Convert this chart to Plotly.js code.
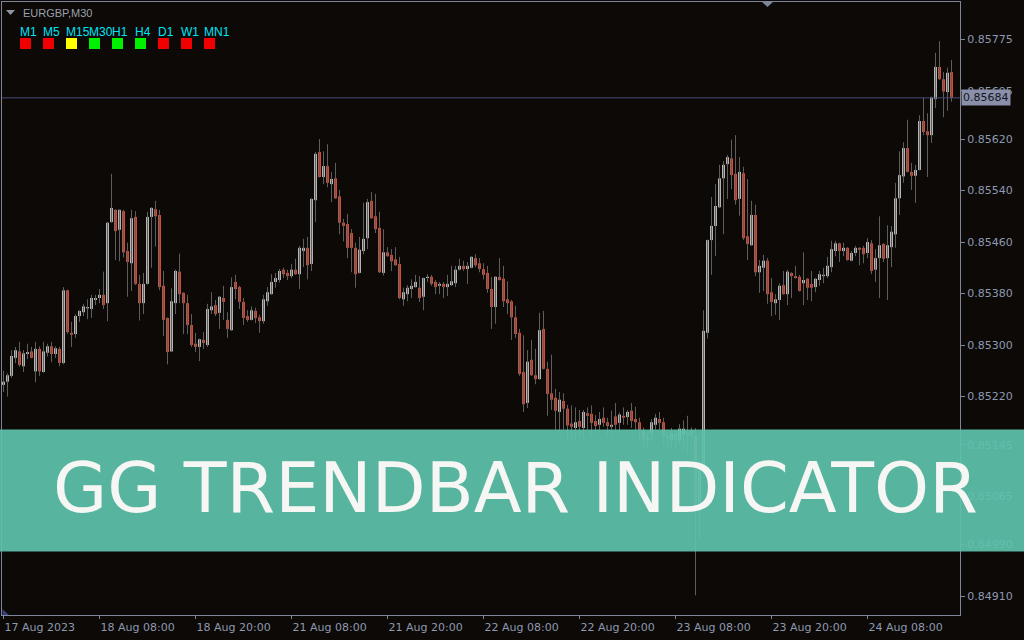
<!DOCTYPE html>
<html>
<head>
<meta charset="utf-8">
<script src="https://cdn.plot.ly/plotly-3.0.1.min.js"></script>
<style>
  html, body { margin: 0; padding: 0; background: #0c0907; }
  #chart { width: 1024px; height: 640px; }
</style>
</head>
<body>
<div id="chart"></div>
<script>
// EURGBP M30 candles, oldest first
const openP = [
  0.85238,0.85243,0.85252,0.85280,0.85290,0.85267,0.85286,0.85290,0.85259,0.85294,
  0.85258,0.85288,0.85298,0.85286,0.85294,0.85272,0.85385,0.85319,0.85317,0.85345,
  0.85351,0.85357,0.85356,0.85370,0.85373,0.85378,0.85365,0.85491,0.85510,0.85479,
  0.85508,0.85446,0.85427,0.85499,0.85395,0.85365,0.85395,0.85499,0.85511,0.85502,
  0.85392,0.85342,0.85290,0.85365,0.85414,0.85381,0.85365,0.85331,0.85302,0.85297,
  0.85308,0.85300,0.85354,0.85362,0.85350,0.85373,0.85339,0.85323,0.85398,0.85390,
  0.85367,0.85345,0.85339,0.85353,0.85343,0.85337,0.85368,0.85379,0.85398,0.85401,
  0.85417,0.85412,0.85407,0.85417,0.85410,0.85446,0.85451,0.85426,0.85525,0.85600,
  0.85561,0.85578,0.85550,0.85559,0.85531,0.85490,0.85488,0.85474,0.85451,0.85412,
  0.85446,0.85466,0.85524,0.85500,0.85482,0.85412,0.85444,0.85440,0.85433,0.85426,
  0.85371,0.85379,0.85387,0.85390,0.85389,0.85375,0.85404,0.85406,0.85398,0.85392,
  0.85395,0.85390,0.85393,0.85396,0.85417,0.85423,0.85418,0.85420,0.85435,0.85427,
  0.85418,0.85412,0.85387,0.85359,0.85406,0.85403,0.85371,0.85368,0.85343,0.85319,
  0.85258,0.85210,0.85277,0.85253,0.85247,0.85325,0.85263,0.85225,0.85218,0.85196,
  0.85213,0.85201,0.85178,0.85171,0.85182,0.85171,0.85194,0.85193,0.85182,0.85176,
  0.85187,0.85180,0.85173,0.85189,0.85179,0.85190,0.85188,0.85198,0.85185,0.85180,
  0.85166,0.85156,0.85163,0.85176,0.85185,0.85180,0.85158,0.85152,0.85163,0.85152,
  0.85161,0.85160,0.85168,0.85160,0.85051,0.85114,0.85319,0.85463,0.85485,0.85514,
  0.85559,0.85581,0.85590,0.85566,0.85527,0.85567,0.85469,0.85455,0.85502,0.85413,
  0.85420,0.85431,0.85382,0.85365,0.85370,0.85393,0.85379,0.85412,0.85407,0.85406,
  0.85396,0.85403,0.85395,0.85390,0.85401,0.85407,0.85407,0.85421,0.85446,0.85458,
  0.85446,0.85451,0.85431,0.85443,0.85451,0.85451,0.85443,0.85458,0.85417,0.85435,
  0.85457,0.85435,0.85452,0.85472,0.85528,0.85562,0.85606,0.85569,0.85563,0.85572,
  0.85648,0.85632,0.85626,0.85682,0.85732,0.85713,0.85693,0.85724
];
const highP = [
  0.85260,0.85256,0.85292,0.85297,0.85305,0.85292,0.85302,0.85297,0.85305,0.85298,
  0.85305,0.85302,0.85305,0.85298,0.85297,0.85390,0.85386,0.85336,0.85348,0.85354,
  0.85364,0.85371,0.85378,0.85378,0.85387,0.85414,0.85491,0.85566,0.85511,0.85511,
  0.85510,0.85459,0.85510,0.85508,0.85409,0.85412,0.85507,0.85514,0.85524,0.85510,
  0.85415,0.85343,0.85388,0.85417,0.85442,0.85382,0.85378,0.85348,0.85319,0.85310,
  0.85320,0.85364,0.85382,0.85370,0.85376,0.85392,0.85351,0.85405,0.85409,0.85392,
  0.85373,0.85354,0.85360,0.85358,0.85347,0.85378,0.85390,0.85410,0.85412,0.85418,
  0.85420,0.85417,0.85426,0.85434,0.85454,0.85465,0.85468,0.85528,0.85600,0.85620,
  0.85601,0.85612,0.85569,0.85583,0.85541,0.85496,0.85504,0.85480,0.85459,0.85468,
  0.85521,0.85527,0.85538,0.85535,0.85507,0.85480,0.85452,0.85449,0.85452,0.85437,
  0.85389,0.85393,0.85402,0.85409,0.85407,0.85405,0.85410,0.85409,0.85401,0.85398,
  0.85398,0.85409,0.85423,0.85423,0.85434,0.85431,0.85429,0.85438,0.85441,0.85435,
  0.85427,0.85423,0.85406,0.85407,0.85435,0.85423,0.85399,0.85370,0.85361,0.85325,
  0.85315,0.85292,0.85308,0.85294,0.85350,0.85353,0.85274,0.85285,0.85232,0.85227,
  0.85225,0.85207,0.85206,0.85203,0.85199,0.85199,0.85203,0.85206,0.85191,0.85196,
  0.85203,0.85187,0.85198,0.85210,0.85195,0.85203,0.85199,0.85210,0.85204,0.85187,
  0.85172,0.85165,0.85185,0.85193,0.85196,0.85187,0.85165,0.85171,0.85168,0.85177,
  0.85183,0.85190,0.85172,0.85171,0.85120,0.85354,0.85464,0.85530,0.85550,0.85580,
  0.85586,0.85595,0.85619,0.85626,0.85592,0.85577,0.85558,0.85524,0.85518,0.85432,
  0.85440,0.85435,0.85404,0.85379,0.85396,0.85415,0.85417,0.85413,0.85423,0.85409,
  0.85444,0.85404,0.85415,0.85404,0.85415,0.85420,0.85437,0.85462,0.85462,0.85459,
  0.85459,0.85452,0.85446,0.85454,0.85452,0.85454,0.85466,0.85463,0.85449,0.85500,
  0.85458,0.85486,0.85485,0.85552,0.85601,0.85615,0.85650,0.85583,0.85580,0.85657,
  0.85685,0.85660,0.85686,0.85754,0.85772,0.85724,0.85731,0.85743
];
const lowP = [
  0.85227,0.85220,0.85249,0.85272,0.85266,0.85258,0.85278,0.85279,0.85242,0.85252,
  0.85257,0.85282,0.85273,0.85280,0.85267,0.85270,0.85317,0.85297,0.85311,0.85336,
  0.85345,0.85340,0.85342,0.85362,0.85365,0.85356,0.85337,0.85490,0.85432,0.85430,
  0.85436,0.85375,0.85384,0.85393,0.85338,0.85348,0.85394,0.85420,0.85453,0.85385,
  0.85314,0.85270,0.85289,0.85348,0.85365,0.85317,0.85317,0.85297,0.85289,0.85275,
  0.85294,0.85297,0.85348,0.85345,0.85325,0.85339,0.85311,0.85322,0.85371,0.85356,
  0.85331,0.85336,0.85338,0.85334,0.85319,0.85333,0.85361,0.85378,0.85389,0.85397,
  0.85404,0.85401,0.85404,0.85409,0.85387,0.85421,0.85402,0.85415,0.85491,0.85560,
  0.85550,0.85545,0.85522,0.85527,0.85472,0.85461,0.85435,0.85413,0.85389,0.85411,
  0.85441,0.85449,0.85496,0.85474,0.85412,0.85408,0.85437,0.85415,0.85423,0.85371,
  0.85361,0.85368,0.85373,0.85389,0.85367,0.85354,0.85398,0.85392,0.85379,0.85379,
  0.85373,0.85376,0.85392,0.85390,0.85416,0.85415,0.85395,0.85419,0.85421,0.85413,
  0.85402,0.85381,0.85325,0.85333,0.85400,0.85359,0.85348,0.85308,0.85311,0.85252,
  0.85196,0.85202,0.85252,0.85239,0.85246,0.85262,0.85190,0.85199,0.85168,0.85165,
  0.85168,0.85152,0.85152,0.85152,0.85155,0.85155,0.85168,0.85160,0.85165,0.85165,
  0.85173,0.85160,0.85160,0.85165,0.85165,0.85176,0.85176,0.85171,0.85165,0.85152,
  0.85140,0.85140,0.85152,0.85168,0.85168,0.85145,0.85140,0.85140,0.85137,0.85145,
  0.85137,0.85132,0.85145,0.84911,0.84997,0.85098,0.85310,0.85409,0.85438,0.85513,
  0.85472,0.85527,0.85542,0.85518,0.85501,0.85463,0.85432,0.85454,0.85407,0.85381,
  0.85384,0.85364,0.85345,0.85347,0.85339,0.85378,0.85362,0.85373,0.85403,0.85383,
  0.85362,0.85370,0.85368,0.85382,0.85392,0.85396,0.85404,0.85413,0.85438,0.85429,
  0.85438,0.85431,0.85430,0.85438,0.85424,0.85427,0.85435,0.85410,0.85398,0.85373,
  0.85429,0.85370,0.85421,0.85451,0.85502,0.85552,0.85568,0.85541,0.85521,0.85571,
  0.85626,0.85561,0.85614,0.85668,0.85712,0.85654,0.85664,0.85678
];
const closeP = [
  0.85243,0.85253,0.85283,0.85292,0.85269,0.85287,0.85289,0.85280,0.85294,0.85259,
  0.85290,0.85298,0.85286,0.85295,0.85272,0.85385,0.85320,0.85316,0.85345,0.85353,
  0.85360,0.85359,0.85373,0.85373,0.85378,0.85362,0.85490,0.85513,0.85477,0.85510,
  0.85444,0.85429,0.85497,0.85395,0.85365,0.85395,0.85499,0.85513,0.85500,0.85390,
  0.85339,0.85289,0.85368,0.85415,0.85379,0.85365,0.85331,0.85300,0.85297,0.85309,
  0.85303,0.85356,0.85360,0.85348,0.85375,0.85367,0.85325,0.85390,0.85387,0.85367,
  0.85342,0.85339,0.85354,0.85342,0.85337,0.85371,0.85382,0.85398,0.85404,0.85415,
  0.85410,0.85407,0.85417,0.85410,0.85451,0.85451,0.85424,0.85527,0.85597,0.85561,
  0.85578,0.85552,0.85558,0.85528,0.85490,0.85485,0.85451,0.85451,0.85410,0.85448,
  0.85465,0.85522,0.85497,0.85480,0.85413,0.85444,0.85438,0.85430,0.85424,0.85373,
  0.85382,0.85389,0.85392,0.85398,0.85373,0.85404,0.85406,0.85395,0.85390,0.85395,
  0.85390,0.85395,0.85399,0.85417,0.85423,0.85418,0.85423,0.85437,0.85424,0.85418,
  0.85409,0.85387,0.85359,0.85406,0.85401,0.85368,0.85365,0.85343,0.85317,0.85255,
  0.85208,0.85274,0.85253,0.85247,0.85323,0.85263,0.85224,0.85215,0.85198,0.85215,
  0.85201,0.85175,0.85173,0.85180,0.85173,0.85196,0.85190,0.85179,0.85174,0.85185,
  0.85179,0.85174,0.85176,0.85176,0.85192,0.85187,0.85196,0.85182,0.85180,0.85168,
  0.85154,0.85150,0.85180,0.85187,0.85179,0.85158,0.85154,0.85163,0.85152,0.85170,
  0.85170,0.85163,0.85160,0.85051,0.85114,0.85322,0.85463,0.85485,0.85516,0.85559,
  0.85580,0.85592,0.85564,0.85525,0.85569,0.85466,0.85457,0.85502,0.85413,0.85423,
  0.85431,0.85379,0.85367,0.85371,0.85392,0.85379,0.85414,0.85407,0.85404,0.85384,
  0.85401,0.85389,0.85389,0.85403,0.85410,0.85409,0.85423,0.85449,0.85458,0.85446,
  0.85451,0.85432,0.85443,0.85451,0.85448,0.85441,0.85460,0.85415,0.85435,0.85455,
  0.85434,0.85455,0.85476,0.85528,0.85564,0.85606,0.85569,0.85563,0.85572,0.85648,
  0.85631,0.85626,0.85685,0.85732,0.85713,0.85694,0.85723,0.85684
];

// time axis: one tick every 24 bars (12 hours)
const timeTickBars = [0, 24, 48, 72, 96, 120, 144, 168, 192, 216];
const timeTickLabels = ['17 Aug 2023', '18 Aug 08:00', '18 Aug 20:00', '21 Aug 08:00', '21 Aug 20:00',
                        '22 Aug 08:00', '22 Aug 20:00', '23 Aug 08:00', '23 Aug 20:00', '24 Aug 08:00'];
const priceTicks = [0.85775, 0.85695, 0.85620, 0.85540, 0.85460, 0.85380, 0.85300,
                    0.85220, 0.85145, 0.85065, 0.84990, 0.84910];
const bidPrice = 0.85684;

// trend panel: timeframe names and their signal state
const panelFrames = ['M1', 'M5', 'M15', 'M30', 'H1', 'H4', 'D1', 'W1', 'MN1'];
const panelStates = ['down', 'down', 'flat', 'up', 'up', 'up', 'down', 'down', 'down'];
const symbolTitle = 'EURGBP,M30';
const bannerText = 'GG TRENDBAR INDICATOR';

// ---- styling ----
const BG = '#0c0907';
const FRAME = '#7e8699';
const LABEL = '#8e99b0';
const BULL = '#b4b4b4';
const BEAR = '#d24b36';
const WICK = '#5e5e5e';
const stateColor = { up: '#00f000', down: '#f00000', flat: '#ffff00' };

const W = 1024, H = 640;
const M = { l: 2, r: 64, t: 2, b: 25 };
const plotW = W - M.l - M.r, plotH = H - M.t - M.b;
// pixel -> paper helpers for the overlay decorations
const PX = x => (x - M.l) / plotW;
const PY = y => (H - M.b - y) / plotH;

const idx = openP.map((_, i) => i);

// wicks: one vertical segment per bar
const wx = [], wy = [];
idx.forEach(i => { wx.push(i, i, null); wy.push(lowP[i], highP[i], null); });

const upI = idx.filter(i => closeP[i] >= openP[i]);
const dnI = idx.filter(i => closeP[i] < openP[i]);

const traces = [
  { type: 'scatter', mode: 'lines', x: wx, y: wy, line: { color: WICK, width: 1 },
    hoverinfo: 'skip', connectgaps: false },
  { type: 'bar', x: upI, base: upI.map(i => openP[i]), y: upI.map(i => closeP[i] - openP[i]),
    width: 0.75, marker: { color: BULL, line: { width: 0 } }, hoverinfo: 'skip' },
  { type: 'bar', x: dnI, base: dnI.map(i => closeP[i]), y: dnI.map(i => openP[i] - closeP[i]),
    width: 0.75, marker: { color: BEAR, line: { width: 0 } }, hoverinfo: 'skip' }
];

const shapes = [];
const annotations = [];

// bid line
shapes.push({ type: 'line', xref: 'paper', yref: 'y', x0: 0, x1: 1, y0: bidPrice, y1: bidPrice,
  line: { color: '#484b78', width: 1 }, layer: 'above' });

// panel squares and labels
panelFrames.forEach((name, i) => {
  const x = 20 + 23 * i;
  shapes.push({ type: 'rect', xref: 'paper', yref: 'paper',
    x0: PX(x), x1: PX(x + 11), y0: PY(49), y1: PY(38),
    fillcolor: stateColor[panelStates[i]], line: { width: 0 }, layer: 'above' });
  annotations.push({ xref: 'paper', yref: 'paper', x: PX(x - 2), y: PY(31.5),
    xanchor: 'left', yanchor: 'middle', showarrow: false, text: name,
    font: { family: 'Liberation Sans', size: 12, color: '#00e4f4' } });
});

// symbol caption with its small drop-down marker
shapes.push({ type: 'path', xref: 'paper', yref: 'paper',
  path: `M ${PX(6)} ${PY(10)} L ${PX(15)} ${PY(10)} L ${PX(10.5)} ${PY(15)} Z`,
  fillcolor: '#8f95a3', line: { width: 0 }, layer: 'above' });
annotations.push({ xref: 'paper', yref: 'paper', x: PX(21), y: PY(12.5), xanchor: 'left', yanchor: 'middle',
  showarrow: false, text: symbolTitle, font: { family: 'Liberation Sans', size: 11, color: '#9ba1ad' } });

// chart shift marker (top) and corner marker (bottom left)
shapes.push({ type: 'path', xref: 'paper', yref: 'paper',
  path: `M ${PX(761)} ${PY(1)} L ${PX(774)} ${PY(1)} L ${PX(767.5)} ${PY(7)} Z`,
  fillcolor: '#7e8699', line: { width: 0 }, layer: 'above' });
shapes.push({ type: 'path', xref: 'paper', yref: 'paper',
  path: `M ${PX(2.5)} ${PY(609)} L ${PX(2.5)} ${PY(615)} L ${PX(9)} ${PY(615)} Z`,
  fillcolor: '#3a3d7a', line: { width: 0 }, layer: 'above' });

// bid price tag on the price scale
annotations.push({ xref: 'paper', yref: 'y', x: 1, y: bidPrice, xanchor: 'left', yanchor: 'middle',
  xshift: 1, showarrow: false, text: bidPrice.toFixed(5), bgcolor: '#8a90a9', borderpad: 1,
  font: { family: 'DejaVu Sans', size: 11, color: '#141622' } });

// title banner across the chart
shapes.push({ type: 'rect', xref: 'paper', yref: 'paper',
  x0: PX(0), x1: PX(W), y0: PY(551.5), y1: PY(429.5),
  fillcolor: 'rgba(94,194,170,0.93)', line: { width: 0 }, layer: 'above' });
annotations.push({ xref: 'paper', yref: 'paper', x: PX(515.5), y: PY(487.5), xanchor: 'center', yanchor: 'middle',
  showarrow: false, text: bannerText, font: { family: 'DejaVu Sans', size: 70, color: '#f6f6f4' } });

const layout = {
  width: W, height: H,
  margin: { l: M.l, r: M.r, t: M.t, b: M.b, pad: 0 },
  paper_bgcolor: BG, plot_bgcolor: BG,
  showlegend: false,
  barmode: 'overlay',
  dragmode: false,
  xaxis: {
    range: [-0.375, 239.125],
    tickmode: 'array', tickvals: timeTickBars, ticktext: timeTickLabels,
    ticks: 'outside', ticklen: 3, tickcolor: FRAME, tickwidth: 1,
    ticklabelposition: 'outside right', ticklabelstandoff: 2,
    showline: true, linecolor: FRAME, linewidth: 1, mirror: true,
    showgrid: false, zeroline: false,
    tickfont: { family: 'DejaVu Sans', size: 11, color: LABEL }
  },
  yaxis: {
    side: 'right',
    range: [0.8488048, 0.8583296],
    tickmode: 'array', tickvals: priceTicks, ticktext: priceTicks.map(v => v.toFixed(5)),
    ticks: 'outside', ticklen: 4, tickcolor: FRAME, tickwidth: 1,
    showline: true, linecolor: FRAME, linewidth: 1, mirror: true,
    showgrid: false, zeroline: false,
    tickfont: { family: 'DejaVu Sans', size: 11, color: LABEL }
  },
  shapes: shapes,
  annotations: annotations
};

Plotly.newPlot('chart', traces, layout, { staticPlot: true, displayModeBar: false });
</script>
</body>
</html>
